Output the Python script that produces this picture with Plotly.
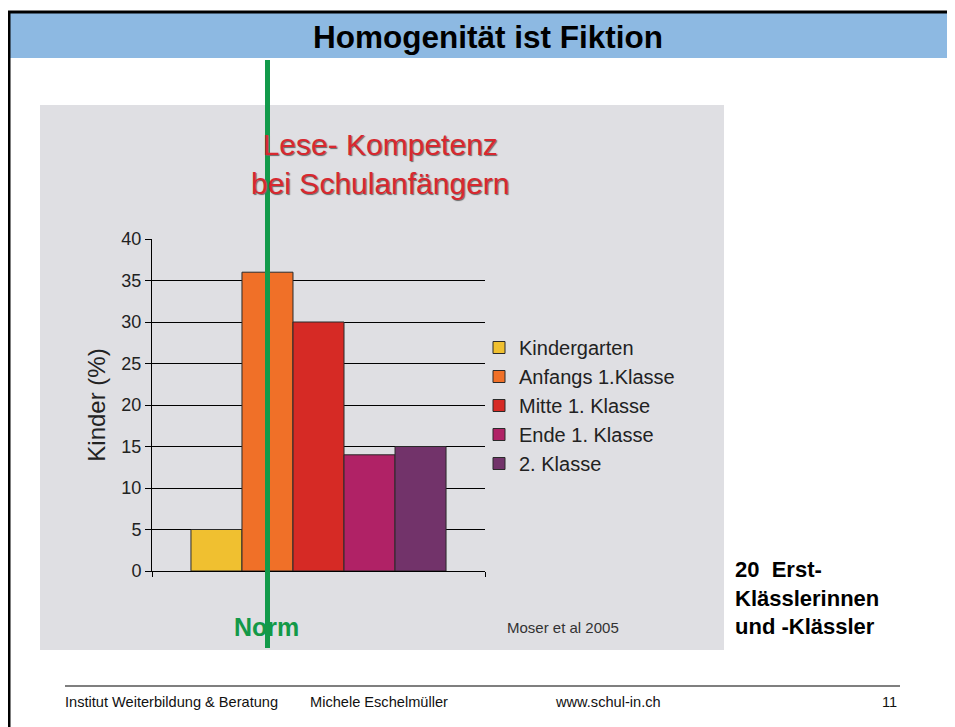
import plotly.graph_objects as go

# The page body adds an 8px margin, so the figure is drawn 8px smaller
OX, OY = 8, 8
W, H = 955 - OX, 727 - OY

# ---- data ----
series = ["Kindergarten", "Anfangs 1.Klasse", "Mitte 1. Klasse", "Ende 1. Klasse", "2. Klasse"]
values = [5, 36, 30, 14, 15]
colors = ["#F0C030", "#F07028", "#D62A25", "#B02266", "#72336A"]
category = [""]
y_ticks = [0, 5, 10, 15, 20, 25, 30, 35, 40]

FONT = "Liberation Sans, Arial, Helvetica, sans-serif"


def px(x):
    return (x - OX) / W


def py(y):
    return 1 - (y - OY) / H


fig = go.Figure()
for name, v, c in zip(series, values, colors):
    fig.add_trace(go.Bar(
        name=name, x=category, y=[v],
        marker=dict(color=c, line=dict(color="#2a2a2a", width=1)),
    ))

shapes = [
    # slide title bar
    dict(type="rect", xref="paper", yref="paper", x0=px(8), x1=px(955), y0=py(58), y1=py(13),
         fillcolor="#8DB9E2", line=dict(width=0), layer="below"),
    # slide borders
    dict(type="line", xref="paper", yref="paper", x0=px(8), x1=px(955), y0=py(12), y1=py(12),
         line=dict(color="#000000", width=3)),
    dict(type="line", xref="paper", yref="paper", x0=px(9), x1=px(9), y0=py(11), y1=py(727),
         line=dict(color="#000000", width=3)),
    # gray chart panel
    dict(type="rect", xref="paper", yref="paper", x0=px(40), x1=px(724), y0=py(650), y1=py(105),
         fillcolor="#DFDFE3", line=dict(width=0), layer="below"),
    # footer line
    dict(type="line", xref="paper", yref="paper", x0=px(65), x1=px(900), y0=py(686), y1=py(686),
         line=dict(color="#555555", width=1.5)),
    # green norm line
    dict(type="line", xref="paper", yref="paper", x0=px(267.5), x1=px(267.5), y0=py(60), y1=py(648),
         line=dict(color="#129A4A", width=5), layer="above"),
]

annotations = [
    dict(text="<b>Homogenität ist Fiktion</b>", x=px(488), y=py(37), xref="paper", yref="paper",
         showarrow=False, xanchor="center", yanchor="middle",
         font=dict(family=FONT, size=31.5, color="#000000")),
    dict(text="Lese- Kompetenz<br>bei Schulanfängern", x=px(380), y=py(164), xref="paper", yref="paper",
         showarrow=False, xanchor="center", yanchor="middle",
         font=dict(family=FONT, size=30, color="#D8282F", shadow="1px 1px 1px #6a6a6a")),
    dict(text="<b>Norm</b>", x=px(266), y=py(627), xref="paper", yref="paper",
         showarrow=False, xanchor="center", yanchor="middle",
         font=dict(family=FONT, size=25, color="#139948")),
    dict(text="Moser et al 2005", x=px(563), y=py(627), xref="paper", yref="paper",
         showarrow=False, xanchor="center", yanchor="middle",
         font=dict(family=FONT, size=15, color="#333333")),
    dict(text="<b>20  Erst-<br>Klässlerinnen<br>und -Klässler</b>", x=px(733), y=py(598), xref="paper", yref="paper",
         showarrow=False, xanchor="left", yanchor="middle", align="left",
         font=dict(family=FONT, size=22, color="#000000")),
    dict(text="Institut Weiterbildung & Beratung", x=px(63), y=py(702), xref="paper", yref="paper",
         showarrow=False, xanchor="left", yanchor="middle",
         font=dict(family=FONT, size=14.6, color="#111111")),
    dict(text="Michele Eschelmüller", x=px(308), y=py(702), xref="paper", yref="paper",
         showarrow=False, xanchor="left", yanchor="middle",
         font=dict(family=FONT, size=14.6, color="#111111")),
    dict(text="www.schul-in.ch", x=px(553), y=py(702), xref="paper", yref="paper",
         showarrow=False, xanchor="left", yanchor="middle",
         font=dict(family=FONT, size=14.6, color="#111111")),
    dict(text="11", x=px(899), y=py(702), xref="paper", yref="paper",
         showarrow=False, xanchor="right", yanchor="middle",
         font=dict(family=FONT, size=14.6, color="#111111")),
]

fig.update_layout(
    width=W, height=H,
    autosize=False,
    margin=dict(l=0, r=0, t=0, b=0, pad=0),
    paper_bgcolor="#FFFFFF",
    plot_bgcolor="rgba(0,0,0,0)",
    barmode="group",
    bargap=0.234,
    bargroupgap=0,
    font=dict(family=FONT, color="#222222"),
    shapes=shapes,
    annotations=annotations,
    showlegend=True,
    legend=dict(
        x=px(479), y=py(328), xanchor="left", yanchor="top",
        bgcolor="rgba(0,0,0,0)", borderwidth=0,
        font=dict(family=FONT, size=20, color="#222222"),
        tracegroupgap=0,
    ),
    xaxis=dict(
        domain=[px(152), px(485)],
        type="category",
        automargin=False,
        showticklabels=False,
        ticks="outside", tickson="boundaries", ticklen=5, tickcolor="#000000",
        showline=True, linecolor="#000000", linewidth=1,
        showgrid=False, zeroline=False,
    ),
    yaxis=dict(
        domain=[py(571), py(239)],
        range=[0, 40],
        automargin=False,
        tickvals=y_ticks,
        ticks="outside", ticklen=6, tickcolor="#000000",
        tickfont=dict(family=FONT, size=18, color="#222222"),
        showline=True, linecolor="#000000", linewidth=1,
        showgrid=True, gridcolor="#000000", gridwidth=1,
        zeroline=False,
        title=dict(text="Kinder (%)", font=dict(family=FONT, size=24, color="#222222"), standoff=8),
    ),
)

fig.write_html("out.html")
